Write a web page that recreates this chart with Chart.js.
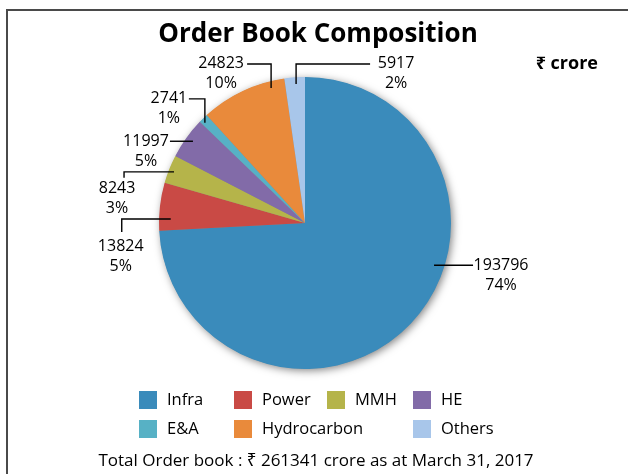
<!DOCTYPE html>
<html>
<head>
<meta charset="utf-8">
<script src="https://cdn.jsdelivr.net/npm/chart.js@4.4.1/dist/chart.umd.min.js"></script>
<style>
  html, body { margin: 0; padding: 0; background: #fff; }
  #wrap { position: relative; width: 628px; height: 474px; }
</style>
</head>
<body>
<div id="wrap"><canvas id="myChart" width="628" height="474"></canvas></div>
<script>
// order book, Rs crore
const categories = ['Infra', 'Power', 'MMH', 'HE', 'E&A', 'Hydrocarbon', 'Others'];
const orderValues = [193796, 13824, 8243, 11997, 2741, 24823, 5917];
const percentLabels = ['74%', '5%', '3%', '5%', '1%', '10%', '2%'];
const sliceColors = ['#3a8bbb', '#c94a45', '#b5b44a', '#826ba8', '#57b1c5', '#e98a3b', '#a8c6ea'];

const titleText = 'Order Book Composition';
const unitText = '\u20B9 crore';
const footerText = 'Total Order book : \u20B9 261341 crore as at March 31, 2017';

const FONT = '"Open Sans", "Noto Sans", "DejaVu Sans", sans-serif';

// leader line layout: t = position along slice, rf = radius fraction,
// path = relative line segments, tx/ty = text centre offset from line end
const labelLayout = [
  { t: 0.405, rf: 0.93, path: [[39, 0]], tx: 28, ty: 0 },
  { t: 0.25, rf: 0.92, path: [[-49, 0], [0, 13]], tx: -1, ty: 14 },
  { t: 0.47, rf: 0.963, path: [[-50, 0], [0, 6]], tx: -7, ty: 11 },
  { t: 0.53, rf: 0.95, path: [[-23, 0]], tx: -24, ty: 0 },
  { t: 0.3, rf: 0.97, path: [[0, -24], [-16, 0]], tx: -20, ty: 0 },
  { t: 0.826, rf: 0.953, path: [[0, -24], [-24, 0]], tx: -26, ty: -1 },
  { t: 0.55, rf: 0.954, path: [[0, -20], [74, 0]], tx: 26, ty: -1 }
];

// legend grid (col, row)
const legendCols = [139, 234, 327, 413];
const legendRows = [391, 420];
const legendCells = [[0, 0], [1, 0], [2, 0], [3, 0], [0, 1], [1, 1], [3, 1]];

const decorPlugin = {
  id: 'decor',
  beforeDatasetsDraw(chart) {
    const ctx = chart.ctx;
    const arc = chart.getDatasetMeta(0).data[0];
    ctx.save();
    ctx.shadowColor = 'rgba(0,0,0,0.5)';
    ctx.shadowBlur = 9;
    ctx.shadowOffsetX = 2;
    ctx.shadowOffsetY = 2;
    ctx.fillStyle = '#888';
    ctx.beginPath();
    ctx.arc(arc.x, arc.y, arc.outerRadius - 0.5, 0, Math.PI * 2);
    ctx.fill();
    ctx.restore();
  },
  afterDraw(chart) {
    const ctx = chart.ctx;
    ctx.save();

    // frame
    ctx.fillStyle = '#4a4a4a';
    ctx.fillRect(6, 9, 622, 2);
    ctx.fillRect(6, 9, 2, 465);

    // title
    ctx.fillStyle = '#000';
    ctx.font = 'bold 26px ' + FONT;
    ctx.textAlign = 'center';
    ctx.textBaseline = 'alphabetic';
    ctx.fillText(titleText, 318, 42);

    ctx.font = 'bold 18px ' + FONT;
    ctx.textAlign = 'right';
    ctx.textBaseline = 'middle';
    ctx.fillText(unitText, 598, 64);

    // data labels
    const meta = chart.getDatasetMeta(0);
    ctx.font = '16px ' + FONT;
    ctx.textAlign = 'center';
    ctx.strokeStyle = '#000';
    ctx.lineWidth = 1.4;
    meta.data.forEach((arc, i) => {
      const lay = labelLayout[i];
      const a = arc.startAngle + lay.t * (arc.endAngle - arc.startAngle);
      let x = arc.x + Math.cos(a) * arc.outerRadius * lay.rf;
      let y = arc.y + Math.sin(a) * arc.outerRadius * lay.rf;
      ctx.beginPath();
      ctx.moveTo(x, y);
      lay.path.forEach(p => {
        x += p[0];
        y += p[1];
        ctx.lineTo(x, y);
      });
      ctx.stroke();
      ctx.fillStyle = '#000';
      ctx.fillText(String(orderValues[i]), x + lay.tx, y + lay.ty);
      ctx.fillText(percentLabels[i], x + lay.tx, y + lay.ty + 20);
    });

    // legend
    ctx.font = '16.5px ' + FONT;
    ctx.textAlign = 'left';
    categories.forEach((c, i) => {
      const bx = legendCols[legendCells[i][0]];
      const by = legendRows[legendCells[i][1]];
      ctx.fillStyle = sliceColors[i];
      ctx.fillRect(bx, by, 18, 18);
      ctx.fillStyle = '#000';
      ctx.fillText(c, bx + 28, by + 9.5);
    });

    // footer
    ctx.font = '17px ' + FONT;
    ctx.textAlign = 'center';
    ctx.fillText(footerText, 316, 461);
    ctx.restore();
  }
};

const ctx = document.getElementById('myChart').getContext('2d');

const chart = new Chart(ctx, {
  type: 'pie',
  data: {
    labels: categories,
    datasets: [{
      data: orderValues,
      backgroundColor: sliceColors,
      borderWidth: 0
    }]
  },
  options: {
    responsive: false,
    animation: false,
    layout: {
      padding: { left: 159, right: 177, top: 77, bottom: 105 }
    },
    plugins: {
      legend: { display: false },
      tooltip: { enabled: false }
    }
  },
  plugins: [decorPlugin]
});
</script>
</body>
</html>
